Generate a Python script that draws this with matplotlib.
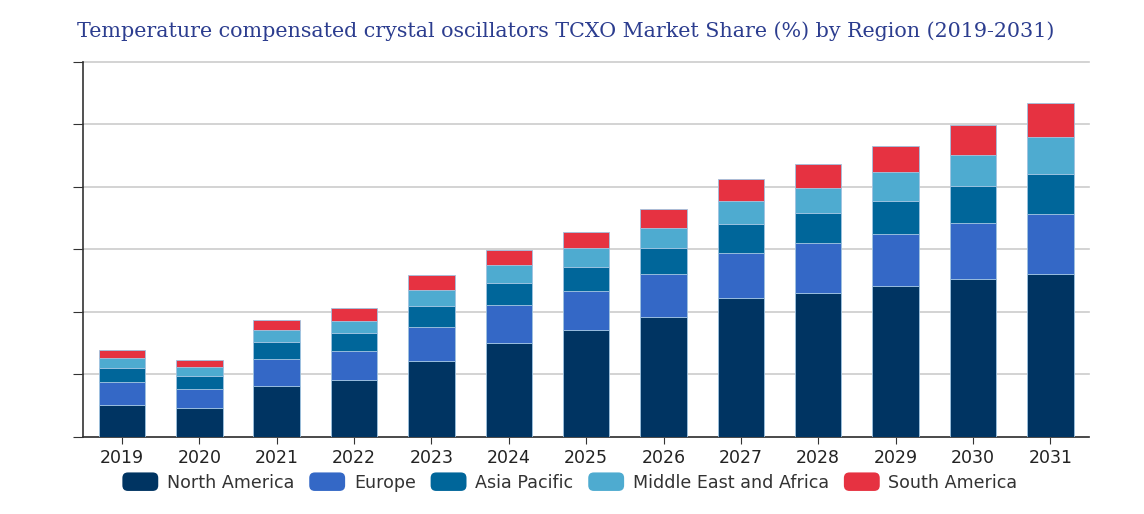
import matplotlib
matplotlib.use("Agg")
import matplotlib.pyplot as plt
import numpy as np
from matplotlib.patches import FancyBboxPatch
from matplotlib.legend_handler import HandlerPatch

years = ["2019", "2020", "2021", "2022", "2023", "2024", "2025", "2026", "2027", "2028", "2029", "2030", "2031"]
north_america = [5.12, 4.64, 8.11, 9.12, 12.11, 15.04, 17.12, 19.10, 22.14, 23.04, 24.11, 25.18, 26.08]
europe = [3.63, 2.94, 4.27, 4.54, 5.44, 5.98, 6.19, 6.88, 7.25, 7.95, 8.27, 9.01, 9.55]
asia_pacific = [2.29, 2.18, 2.82, 2.98, 3.41, 3.62, 3.89, 4.21, 4.64, 4.85, 5.33, 5.97, 6.45]
middle_east_africa = [1.55, 1.34, 1.92, 1.92, 2.56, 2.78, 2.94, 3.25, 3.68, 3.90, 4.59, 4.96, 5.92]
south_america = [1.33, 1.22, 1.60, 1.98, 2.30, 2.50, 2.66, 2.99, 3.52, 3.89, 4.21, 4.80, 5.44]

series = [
    ("North America", north_america, "#003462"),
    ("Europe", europe, "#3468c6"),
    ("Asia Pacific", asia_pacific, "#00669a"),
    ("Middle East and Africa", middle_east_africa, "#4eabd0"),
    ("South America", south_america, "#e63241"),
]

fig = plt.figure(figsize=(11.44, 5.14), dpi=100)
ax = fig.add_axes([83.3 / 1144, 1 - 436.7 / 514, (1089 - 83.3) / 1144, (436.7 - 61.5) / 514])

x = np.arange(len(years))
bottom = np.zeros(len(years))
handles = []
for name, vals, color in series:
    b = ax.bar(x, vals, width=0.6, bottom=bottom, color=color, edgecolor="#9fc3e0",
               linewidth=0.6, label=name, zorder=3)
    bottom += np.array(vals)
    handles.append(b)

ax.set_xlim(-0.5, 12.5)
ax.set_ylim(0, 60)
ax.set_yticks(np.arange(0, 61, 10))
ax.set_yticklabels([])
ax.yaxis.grid(True, color="#cccccc", linewidth=1.2, zorder=0)
for gl in ax.get_ygridlines():
    gl.set_clip_on(False)
ax.set_xticks(x)
ax.set_xticklabels(years, fontsize=12.5, color="#222222", fontfamily="DejaVu Sans")
ax.tick_params(axis="x", length=5, color="#333333", pad=4)
ax.tick_params(axis="y", length=7, color="#333333")
for s in ["top", "right"]:
    ax.spines[s].set_visible(False)
ax.spines["left"].set_color("#333333")
ax.spines["bottom"].set_color("#333333")
ax.spines["left"].set_linewidth(1.2)
ax.spines["bottom"].set_linewidth(1.2)


class RoundHandler(HandlerPatch):
    def create_artists(self, legend, orig_handle, xdescent, ydescent, width, height, fontsize, trans):
        fc = orig_handle.patches[0].get_facecolor() if hasattr(orig_handle, "patches") else orig_handle.get_facecolor()
        p = FancyBboxPatch((-xdescent, -ydescent), width, height,
                           boxstyle="round,pad=0,rounding_size=4", facecolor=fc,
                           edgecolor="none", transform=trans)
        return [p]


leg = fig.legend(handles=handles, labels=[s[0] for s in series], loc="center",
                 bbox_to_anchor=(570 / 1144, 1 - 482 / 514), ncol=5, frameon=False,
                 fontsize=12.6, handlelength=2.05, handleheight=1.25, columnspacing=0.85,
                 handletextpad=0.5,
                 handler_map={h: RoundHandler() for h in handles})
for t in leg.get_texts():
    t.set_color("#333333")

fig.text(77 / 1144, 1 - 31 / 514, "Temperature compensated crystal oscillators TCXO Market Share (%) by Region (2019-2031)",
         fontsize=14.9, color="#2c3d8f", fontfamily="DejaVu Serif", va="center", ha="left")

fig.savefig("out.png", dpi=100)
